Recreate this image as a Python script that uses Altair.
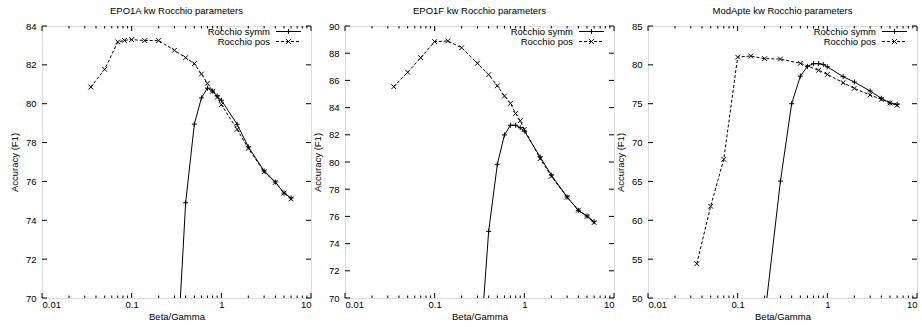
import altair as alt
import pandas as pd

# ---------------- data ----------------
SERIES = ["Rocchio symm", "Rocchio pos"]
TITLES = ["EPO1A kw Rocchio parameters", "EPO1F kw Rocchio parameters", "ModApte kw Rocchio parameters"]

# EPO1A
symm_x1 = [0.3, 0.4, 0.5, 0.6, 0.7, 0.8, 0.9, 1.0, 1.5, 2, 3, 4, 5, 6]
symm_y1 = [64.5, 74.9, 78.95, 80.3, 80.8, 80.65, 80.4, 80.18, 78.94, 77.78, 76.54, 75.97, 75.4, 75.15]
pos_x1 = [0.035, 0.05, 0.07, 0.083, 0.1, 0.14, 0.2, 0.3, 0.4, 0.5, 0.6, 0.7, 0.8, 0.9, 1.0, 1.5, 2, 3, 4, 5, 6]
pos_y1 = [80.86, 81.77, 83.18, 83.26, 83.3, 83.25, 83.25, 82.75, 82.37, 82.06, 81.53, 81.05, 80.65, 80.33, 79.95, 78.68, 77.7, 76.5, 75.95, 75.4, 75.1]

# EPO1F
symm_x2 = [0.3, 0.4, 0.5, 0.6, 0.7, 0.8, 0.9, 1.0, 1.5, 2, 3, 4, 5, 6]
symm_y2 = [63.5, 74.9, 79.83, 81.99, 82.7, 82.7, 82.52, 82.28, 80.37, 79.04, 77.43, 76.45, 76.03, 75.61]
pos_x2 = [0.035, 0.05, 0.07, 0.1, 0.14, 0.2, 0.3, 0.4, 0.5, 0.6, 0.7, 0.8, 0.9, 1.0, 1.5, 2, 3, 4, 5, 6]
pos_y2 = [85.54, 86.6, 87.67, 88.85, 88.9, 88.4, 87.26, 86.42, 85.6, 84.85, 84.31, 83.57, 83.03, 82.4, 80.25, 78.95, 77.4, 76.45, 76.0, 75.55]

# ModApte
symm_x3 = [0.2, 0.3, 0.4, 0.5, 0.6, 0.7, 0.8, 0.9, 1.0, 1.5, 2, 3, 4, 5, 6]
symm_y3 = [47.5, 65.05, 75.0, 78.55, 79.8, 80.15, 80.15, 80.05, 79.75, 78.48, 77.79, 76.64, 75.7, 75.09, 74.92]
pos_x3 = [0.035, 0.05, 0.07, 0.1, 0.14, 0.2, 0.3, 0.5, 0.8, 1.0, 1.5, 2, 3, 4, 5, 6]
pos_y3 = [54.41, 61.8, 67.85, 81.0, 81.14, 80.8, 80.75, 80.2, 79.3, 78.78, 77.7, 76.98, 76.12, 75.56, 75.09, 74.8]

X_DOMAIN = [0.01, 10]
X_MAJOR = [0.01, 0.1, 1, 10]
X_MINOR = [m * d for d in [0.01, 0.1, 1] for m in range(2, 10)]
Y_DOMAINS = [[70, 84], [70, 90], [50, 85]]
Y_TICKS = [list(range(70, 85, 2)), list(range(70, 91, 2)), list(range(50, 86, 5))]

# ---------------- style ----------------
W, H = 269, 272
FONT = "Liberation Sans"
FS = 9.5
PLUS = "M-1,0L1,0M0,-1L0,1"
XMARK = "M-1,-1L1,1M-1,1L1,-1"
MAJ, MIN = 5, 2.5


def panel(i, sx, sy, px, py):
    xs = alt.Scale(type="log", domain=X_DOMAIN)
    ys = alt.Scale(domain=Y_DOMAINS[i], nice=False, zero=False)
    xax = alt.Axis(title="Beta/Gamma", values=X_MAJOR, format="~g", ticks=False,
                   domain=False, grid=False, labelPadding=1, titlePadding=3,
                   titleFontWeight="normal", labelFontSize=FS, titleFontSize=FS,
                   labelFont=FONT, titleFont=FONT, labelColor="black", titleColor="black")
    yax = alt.Axis(title="Accuracy (F1)", values=Y_TICKS[i], ticks=False, domain=False,
                   grid=False, labelPadding=6, titlePadding=6,
                   titleFontWeight="normal", labelFontSize=FS, titleFontSize=FS,
                   labelFont=FONT, titleFont=FONT, labelColor="black", titleColor="black")
    X = alt.X("x:Q", scale=xs, axis=xax)
    Y = alt.Y("y:Q", scale=ys, axis=yax)

    dsy = pd.DataFrame({"x": sx, "y": sy})
    dpo = pd.DataFrame({"x": px, "y": py})

    l_sym = alt.Chart(dsy).mark_line(color="black", strokeWidth=1, clip=True).encode(x=X, y=Y)
    p_sym = alt.Chart(dsy).mark_point(shape=PLUS, size=25, filled=False, color="black",
                                      strokeWidth=1, opacity=1, clip=True).encode(x=X, y=Y)
    l_pos = alt.Chart(dpo).mark_line(color="black", strokeWidth=1, strokeDash=[3, 2],
                                     clip=True).encode(x=X, y=Y)
    p_pos = alt.Chart(dpo).mark_point(shape=XMARK, size=22, filled=False, color="black",
                                      strokeWidth=1, opacity=1, clip=True).encode(x=X, y=Y)

    dmaj = pd.DataFrame({"x": X_MAJOR})
    dmin = pd.DataFrame({"x": X_MINOR})
    dy = pd.DataFrame({"y": Y_TICKS[i]})
    tick = dict(color="black", strokeWidth=1)
    xt = [
        alt.Chart(dmaj).mark_rule(**tick).encode(x=X, y=alt.value(H), y2=alt.value(H - MAJ)),
        alt.Chart(dmaj).mark_rule(**tick).encode(x=X, y=alt.value(0), y2=alt.value(MAJ)),
        alt.Chart(dmin).mark_rule(**tick).encode(x=X, y=alt.value(H), y2=alt.value(H - MIN)),
        alt.Chart(dmin).mark_rule(**tick).encode(x=X, y=alt.value(0), y2=alt.value(MIN)),
        alt.Chart(dy).mark_rule(**tick).encode(y=Y, x=alt.value(0), x2=alt.value(MAJ)),
        alt.Chart(dy).mark_rule(**tick).encode(y=Y, x=alt.value(W - MAJ), x2=alt.value(W)),
    ]

    # legend (inside, top right)
    leg = []
    for k, (name, shape, dash) in enumerate([(SERIES[0], PLUS, [1, 0]), (SERIES[1], XMARK, [3, 2])]):
        yy = 5.5 + 10 * k
        dl = pd.DataFrame({"label": [name]})
        leg.append(alt.Chart(dl).mark_text(align="right", baseline="middle", font=FONT,
                                           fontSize=FS, color="black")
                   .encode(text="label:N", x=alt.value(228), y=alt.value(yy)))
        leg.append(alt.Chart(dl).mark_rule(color="black", strokeWidth=1, strokeDash=dash)
                   .encode(x=alt.value(234), x2=alt.value(259), y=alt.value(yy)))
        leg.append(alt.Chart(dl).mark_point(shape=shape, size=25, filled=False, color="black",
                                            strokeWidth=1, opacity=1)
                   .encode(x=alt.value(246.5), y=alt.value(yy)))

    return alt.layer(*xt, l_sym, l_pos, p_sym, p_pos, *leg).properties(
        width=W, height=H,
        title=alt.TitleParams(TITLES[i], fontSize=FS, fontWeight="normal", font=FONT,
                              offset=6, color="black"),
    )


chart = alt.hconcat(
    panel(0, symm_x1, symm_y1, pos_x1, pos_y1),
    panel(1, symm_x2, symm_y2, pos_x2, pos_y2),
    panel(2, symm_x3, symm_y3, pos_x3, pos_y3),
    spacing=34, bounds="flush",
).properties(
    padding={"left": 8, "top": 5, "right": 0, "bottom": 0},
).configure_view(
    stroke="black", strokeWidth=1
).configure(background="white")

chart.save("out.html", embed_options={"renderer": "svg", "actions": False})
